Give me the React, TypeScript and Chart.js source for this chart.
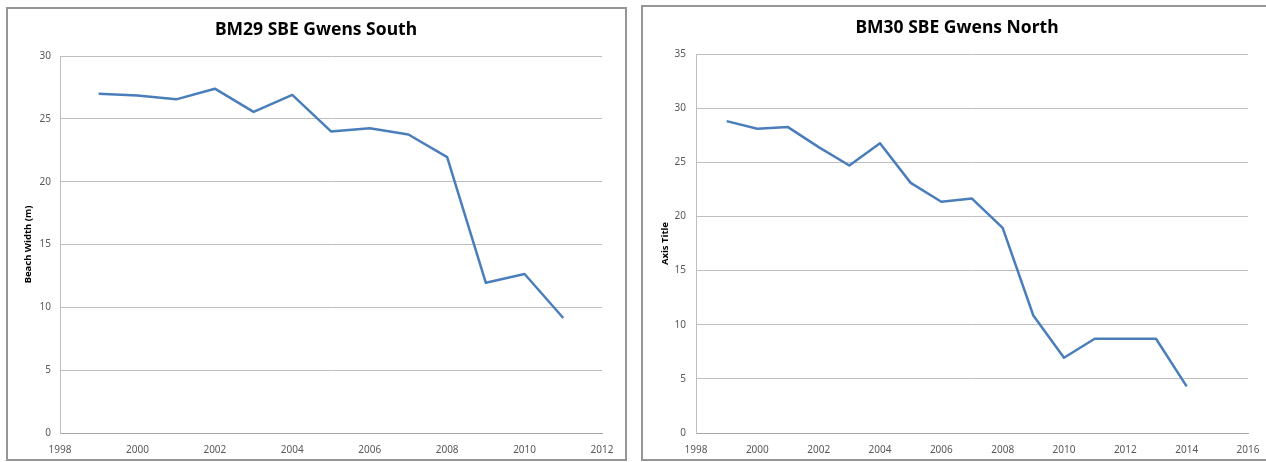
import React, { useEffect, useRef } from "react";
import { Chart, registerables } from "chart.js";

Chart.register(...registerables);

// Beach width survey, profile BM29 (south)
const SOUTH_TITLE = "BM29 SBE Gwens South";
const SOUTH_AXIS_TITLE = "Beach Width (m)";
const SOUTH_YEARS = [1999, 2000, 2001, 2002, 2003, 2004, 2005, 2006, 2007, 2008, 2009, 2010, 2011];
const SOUTH_WIDTH = [27.0, 26.85, 26.55, 27.4, 25.55, 26.9, 24.0, 24.25, 23.75, 21.95, 11.95, 12.65, 9.15];
const SOUTH_X_RANGE = [1998, 2012];
const SOUTH_Y_RANGE = [0, 30];

// Beach width survey, profile BM30 (north)
const NORTH_TITLE = "BM30 SBE Gwens North";
const NORTH_AXIS_TITLE = "Axis Title";
const NORTH_YEARS = [1999, 2000, 2001, 2002, 2003, 2004, 2005, 2006, 2007, 2008, 2009, 2010, 2011, 2012, 2013, 2014];
const NORTH_WIDTH = [28.8, 28.1, 28.25, 26.4, 24.7, 26.75, 23.1, 21.35, 21.65, 18.95, 10.85, 6.95, 8.7, 8.7, 8.7, 4.3];
const NORTH_X_RANGE = [1998, 2016];
const NORTH_Y_RANGE = [0, 35];

const FONT = "'Noto Sans', 'DejaVu Sans', sans-serif";
const LINE_COLOR = "#4A7EBB";
const GRID_COLOR = "#BEBEBE";
const TICK_COLOR = "#595959";

type PanelLayout = {
  width: number;
  padLeft: number;
  padRight: number;
  yAxisWidth: number;
  rightGap: number;
  titleTop: number;
  titleBottom: number;
  axisTitlePad: number;
  yTickPad: number;
};

function buildConfig(
  title: string,
  axisTitle: string,
  years: number[],
  values: number[],
  xRange: number[],
  yRange: number[],
  lay: PanelLayout
): any {
  return {
    type: "line",
    data: {
      datasets: [
        {
          data: years.map((yr, i) => ({ x: yr, y: values[i] })),
          borderColor: LINE_COLOR,
          borderWidth: 2.5,
          borderJoinStyle: "round",
          pointRadius: 0,
          tension: 0,
          fill: false,
          yAxisID: "y",
        },
      ],
    },
    options: {
      animation: false,
      responsive: false,
      events: [],
      layout: { padding: { left: lay.padLeft, right: lay.padRight, top: 0, bottom: 0 } },
      plugins: {
        legend: { display: false },
        tooltip: { enabled: false },
        title: {
          display: true,
          text: title,
          color: "#000000",
          font: { family: FONT, size: 17.5, weight: "bold", lineHeight: 1.2 },
          padding: { top: lay.titleTop, bottom: lay.titleBottom },
        },
      },
      scales: {
        x: {
          type: "linear",
          min: xRange[0],
          max: xRange[1],
          grid: { display: false, drawTicks: false },
          border: { display: true, color: "#A6A6A6", width: 1 },
          ticks: {
            stepSize: 2,
            padding: 11,
            color: TICK_COLOR,
            font: { family: FONT, size: 10 },
            maxRotation: 0,
            callback: (v: number) => String(v),
          },
          afterFit: (s: any) => {
            s.height = 29;
          },
        },
        y: {
          type: "linear",
          position: "left",
          min: yRange[0],
          max: yRange[1],
          grid: { color: GRID_COLOR, lineWidth: 1, drawTicks: false },
          border: { display: true, color: GRID_COLOR, width: 1 },
          ticks: {
            stepSize: 5,
            padding: lay.yTickPad,
            color: TICK_COLOR,
            font: { family: FONT, size: 10 },
          },
          title: {
            display: true,
            text: axisTitle,
            color: "#000000",
            font: { family: FONT, size: 9.5, weight: "bold", lineHeight: 1.2 },
            padding: { top: lay.axisTitlePad, bottom: 0 },
          },
          afterFit: (s: any) => {
            s.width = lay.yAxisWidth;
          },
        },
        // empty axis that keeps the plot clear of the right-hand frame
        gap: {
          type: "linear",
          position: "right",
          display: true,
          grid: { display: false, drawTicks: false },
          border: { display: false },
          ticks: { display: false },
          afterFit: (s: any) => {
            s.width = lay.rightGap;
          },
        },
      },
    },
  };
}

function Panel(props: {
  left: number;
  layout: PanelLayout;
  config: any;
}) {
  const ref = useRef<HTMLCanvasElement | null>(null);
  useEffect(() => {
    if (!ref.current) return;
    const chart = new Chart(ref.current, props.config);
    return () => chart.destroy();
  }, []);
  return (
    <canvas
      ref={ref}
      width={props.layout.width}
      height={462}
      style={{
        position: "absolute",
        left: props.left,
        top: 0,
        width: props.layout.width,
        height: 462,
        display: "block",
      }}
    />
  );
}

const southLayout: PanelLayout = {
  width: 632,
  padLeft: 0,
  padRight: 0,
  yAxisWidth: 60,
  rightGap: 30,
  titleTop: 20,
  titleBottom: 15,
  axisTitlePad: 22.3,
  yTickPad: 9,
};

const northLayout: PanelLayout = {
  width: 640,
  padLeft: 7,
  padRight: 15,
  yAxisWidth: 48,
  rightGap: 18,
  titleTop: 18,
  titleBottom: 15,
  axisTitlePad: 11.3,
  yTickPad: 10,
};

export default function App() {
  const southConfig = buildConfig(
    SOUTH_TITLE,
    SOUTH_AXIS_TITLE,
    SOUTH_YEARS,
    SOUTH_WIDTH,
    SOUTH_X_RANGE,
    SOUTH_Y_RANGE,
    southLayout
  );
  const northConfig = buildConfig(
    NORTH_TITLE,
    NORTH_AXIS_TITLE,
    NORTH_YEARS,
    NORTH_WIDTH,
    NORTH_X_RANGE,
    NORTH_Y_RANGE,
    northLayout
  );
  return (
    <div
      style={{
        position: "fixed",
        left: 0,
        top: 0,
        width: 1266,
        height: 462,
        background: "#ffffff",
        overflow: "hidden",
      }}
    >
      <div
        style={{
          position: "absolute",
          left: 6,
          top: 7,
          width: 621,
          height: 454,
          boxSizing: "border-box",
          border: "2px solid #969696",
        }}
      />
      <div
        style={{
          position: "absolute",
          left: 641,
          top: 5,
          width: 640,
          height: 456,
          boxSizing: "border-box",
          border: "2px solid #969696",
        }}
      />
      <Panel left={0} layout={southLayout} config={southConfig} />
      <Panel left={641} layout={northLayout} config={northConfig} />
    </div>
  );
}
